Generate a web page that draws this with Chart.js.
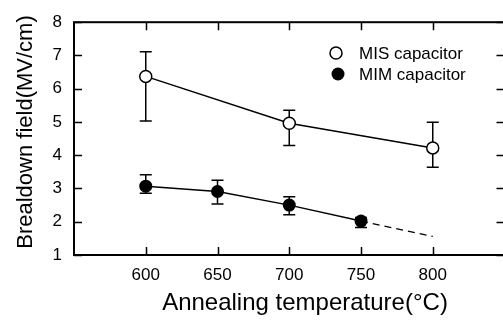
<!DOCTYPE html>
<html>
<head>
<meta charset="utf-8">
<script src="https://cdn.jsdelivr.net/npm/chart.js@4"></script>
<style>
  html, body { margin: 0; padding: 0; background: #fff; overflow: hidden; }
  canvas { display: block; }
</style>
</head>
<body>
<canvas id="chart" width="512" height="320"></canvas>
<script>
// data
const xTicks = [600, 650, 700, 750, 800];
const misTemps = [600, 700, 800];
const misField = [6.37, 4.96, 4.22];
const misErrLow = [5.03, 4.29, 3.64];
const misErrHigh = [7.11, 5.35, 4.99];
const mimTemps = [600, 650, 700, 750];
const mimField = [3.07, 2.91, 2.5, 2.02];
const mimErrLow = [2.86, 2.53, 2.21, 1.83];
const mimErrHigh = [3.41, 3.25, 2.75, 2.13];
const extrapTemps = [750, 800];
const extrapField = [2.02, 1.56];
const legendLabels = ["MIS capacitor", "MIM capacitor"];

const FONT = "'Liberation Sans', Arial, Helvetica, sans-serif";

function toPoints(xs, ys) {
  return xs.map((x, i) => ({ x: x, y: ys[i] }));
}

// error bars, drawn behind the markers
const errorBars = {
  id: "errorBars",
  beforeDatasetsDraw(chart) {
    const ctx = chart.ctx;
    const xs = chart.scales.x, ys = chart.scales.y;
    const sets = [
      [misTemps, misErrLow, misErrHigh],
      [mimTemps, mimErrLow, mimErrHigh],
    ];
    ctx.save();
    ctx.strokeStyle = "#000";
    ctx.lineWidth = 1.5;
    sets.forEach(([t, lo, hi]) => {
      t.forEach((v, i) => {
        const px = xs.getPixelForValue(v);
        const y1 = ys.getPixelForValue(lo[i]);
        const y2 = ys.getPixelForValue(hi[i]);
        ctx.beginPath();
        ctx.moveTo(px, y1); ctx.lineTo(px, y2);
        ctx.moveTo(px - 6, y1); ctx.lineTo(px + 6, y1);
        ctx.moveTo(px - 6, y2); ctx.lineTo(px + 6, y2);
        ctx.stroke();
      });
    });
    ctx.restore();
  },
};

// box frame, inward ticks, axis titles and legend
const frame = {
  id: "frame",
  afterDraw(chart) {
    const ctx = chart.ctx;
    const a = chart.chartArea;
    const xs = chart.scales.x, ys = chart.scales.y;
    ctx.save();
    ctx.strokeStyle = "#000";
    ctx.lineWidth = 2;
    ctx.strokeRect(a.left, a.top, a.right - a.left, a.bottom - a.top);

    ctx.lineWidth = 1.5;
    ctx.beginPath();
    xTicks.forEach((v) => {
      const px = Math.round(xs.getPixelForValue(v)) + 0.5;
      ctx.moveTo(px, a.bottom); ctx.lineTo(px, a.bottom - 8);
      ctx.moveTo(px, a.top); ctx.lineTo(px, a.top + 8);
    });
    ys.ticks.forEach((t) => {
      const py = Math.round(ys.getPixelForValue(t.value)) + 0.5;
      ctx.moveTo(a.left, py); ctx.lineTo(a.left + 8, py);
      ctx.moveTo(a.right, py); ctx.lineTo(a.right - 8, py);
    });
    ctx.stroke();

    ctx.fillStyle = "#000";
    ctx.textAlign = "center";
    ctx.font = "24px " + FONT;
    ctx.textBaseline = "alphabetic";
    ctx.fillText("Annealing temperature(\u00B0C)", 305, 310);
    ctx.font = "22px " + FONT;
    ctx.textBaseline = "middle";
    ctx.save();
    ctx.translate(26, 132);
    ctx.rotate(-Math.PI / 2);
    ctx.fillText("Brealdown field(MV/cm)", 0, 0);
    ctx.restore();

    // legend
    ctx.font = "17px " + FONT;
    ctx.textAlign = "left";
    ctx.lineWidth = 1.5;
    ctx.beginPath();
    ctx.arc(336, 53, 6, 0, Math.PI * 2);
    ctx.fillStyle = "#fff";
    ctx.fill();
    ctx.stroke();
    ctx.beginPath();
    ctx.arc(338, 74, 6.5, 0, Math.PI * 2);
    ctx.fillStyle = "#000";
    ctx.fill();
    ctx.fillText(legendLabels[0], 359, 54);
    ctx.fillText(legendLabels[1], 359, 75);
    ctx.restore();
  },
};

new Chart(document.getElementById("chart"), {
  type: "line",
  data: {
    datasets: [
      {
        label: legendLabels[0],
        data: toPoints(misTemps, misField),
        borderColor: "#000",
        borderWidth: 1.5,
        pointRadius: 6,
        pointBackgroundColor: "#fff",
        pointBorderColor: "#000",
        pointBorderWidth: 1.5,
      },
      {
        label: legendLabels[1],
        data: toPoints(mimTemps, mimField),
        borderColor: "#000",
        borderWidth: 1.5,
        pointRadius: 6.5,
        pointBackgroundColor: "#000",
        pointBorderColor: "#000",
        pointBorderWidth: 0,
      },
      {
        label: "extrapolation",
        data: toPoints(extrapTemps, extrapField),
        borderColor: "#000",
        borderWidth: 1.3,
        borderDash: [7, 5],
        pointRadius: 0,
      },
    ],
  },
  options: {
    responsive: false,
    animation: false,
    events: [],
    layout: { padding: { top: 13, right: 5, left: 0, bottom: 0 } },
    plugins: { legend: { display: false }, tooltip: { enabled: false } },
    scales: {
      x: {
        type: "linear",
        min: 550,
        max: 850,
        afterBuildTicks: (s) => { s.ticks = xTicks.map((v) => ({ value: v })); },
        afterFit: (s) => { s.height = 65; },
        grid: { display: false, drawTicks: false },
        border: { display: false },
        ticks: { color: "#000", padding: 10, font: { family: FONT, size: 17 }, maxRotation: 0 },
      },
      y: {
        min: 1,
        max: 8,
        afterFit: (s) => { s.width = 74; },
        grid: { display: false, drawTicks: false },
        border: { display: false },
        ticks: { color: "#000", stepSize: 1, padding: 12, font: { family: FONT, size: 17 } },
      },
    },
  },
  plugins: [errorBars, frame],
});
</script>
</body>
</html>
